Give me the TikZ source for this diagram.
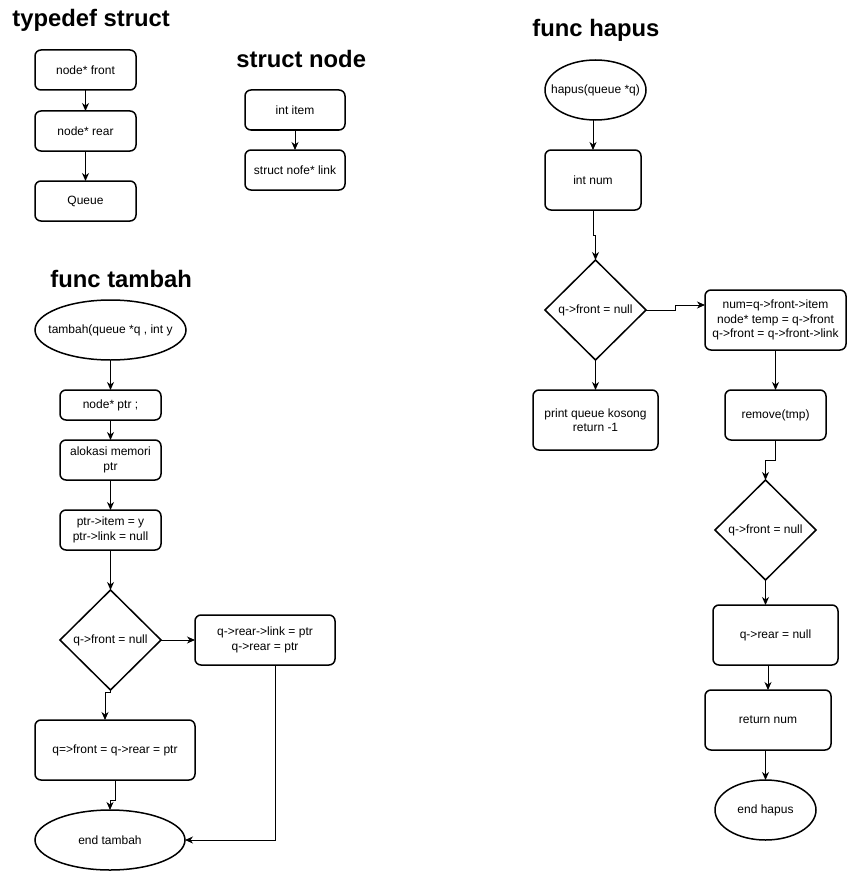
\documentclass[tikz,border=0pt]{standalone}
\usepackage{fontspec}
\setmainfont{Liberation Sans}
\usetikzlibrary{arrows.meta,positioning,shapes.geometric}

\tikzset{
  block/.style={draw, rounded corners=6pt, line width=1.5pt, inner sep=2pt, outer sep=0pt,
    align=center, minimum width=101pt, minimum height=40pt},
  term/.style={draw, ellipse, line width=1.5pt, inner sep=0pt, outer sep=0pt,
    minimum width=101pt, minimum height=60pt},
  decide/.style={draw, diamond, line width=1.5pt, inner sep=0pt, outer sep=0pt,
    minimum width=101pt, minimum height=100pt},
  title/.style={anchor=base west, inner sep=0pt,
    font=\bfseries\fontsize{23.8}{28}\selectfont}
}

\begin{document}
\begin{tikzpicture}[->,>={Stealth[length=8pt,width=7pt,inset=2.5pt]},x=1pt,y=-1pt,
    line width=0.9pt,font=\fontsize{12}{14.3}\selectfont]
  \useasboundingbox (0,0) rectangle (847,872);

  \node[title] (ttypedef) at (12,27) {typedef struct};
  \node[block] (front) at (85.5,70) {node* front};
  \node[block] (rear) [below=21pt of front] {node* rear};
  \node[block] (queue) [below=30pt of rear] {Queue};

  \node[title] (tnode) at (236,68) {struct node};
  \node[block, minimum width=100pt] (item) at (295,110) {int item};
  \node[block, minimum width=100pt] (link) [below=20pt of item] {struct nofe* link};

  \node[title] (ttambah) at (50,287) {func tambah};
  \node[term, minimum width=151pt] (tam) at (110.5,330) {\makebox[0pt]{tambah(queue *q , int y}};
  \node[block, minimum height=30pt] (ptr) [below=30pt of tam] {node* ptr ;};
  \node[block] (alok) [below=20pt of ptr] {alokasi memori\\ptr};
  \node[block] (pitem) [below=30pt of alok] {ptr->item = y\\ptr->link = null};
  \node[decide] (tdia) [below=40pt of pitem] {q->front = null};
  \node[block, minimum width=140pt, minimum height=50pt] (tlink) [right=34pt of tdia]
    {q->rear->link = ptr\\q->rear = ptr};
  \node[block, minimum width=160pt, minimum height=60pt] (qf) [below=30pt of tdia, xshift=4.5pt]
    {q=>front = q->rear = ptr};
  \node[term, minimum width=150pt] (tend) [below=30pt of qf, xshift=-5pt] {end tambah};

  \node[title] (thapus) at (532,37) {func hapus};
  \node[term] (hap) at (595.5,90) {\makebox[0pt]{hapus(queue *q)}};
  \node[block, minimum width=96pt, minimum height=60pt] (num) [below=30pt of hap, xshift=-2.5pt] {int num};
  \node[decide] (hdia) [below=50pt of num, xshift=2.5pt] {q->front = null};
  \node[block, minimum width=125pt, minimum height=60pt] (print) [below=30pt of hdia]
    {print queue kosong\\return -1};
  \node[block, minimum width=141pt, minimum height=60pt] (take) [right=59pt of hdia, yshift=-10pt]
    {num=q->front->item\\node* temp = q->front\\q->front = q->front->link};
  \node[block, minimum height=50pt] (remove) [below=40pt of take] {remove(tmp)};
  \node[decide] (hdia2) [below=40pt of remove, xshift=-10pt] {q->front = null};
  \node[block, minimum width=125pt, minimum height=60pt] (qrear) [below=25pt of hdia2, xshift=10pt]
    {q->rear = null};
  \node[block, minimum width=126pt, minimum height=60pt] (ret) [below=25pt of qrear, xshift=-7.5pt]
    {return num};
  \node[term] (endh) [below=30pt of ret, xshift=-2.5pt] {end hapus};

  \draw (front) -- (rear);
  \draw (rear) -- (queue);
  \draw (item) -- (link);

  \draw (tam) -- (ptr);
  \draw (ptr) -- (alok);
  \draw (alok) -- (pitem);
  \draw (pitem) -- (tdia);
  \draw (tdia) -- (tlink);
  \draw (tdia.south) -- ++(0,2) -| ([xshift=-10pt]qf.north);
  \draw (qf.south) -- ++(0,20) -| (tend.north);
  \draw ([xshift=10pt]tlink.south) |- (tend.east);

  \draw (hap.south -| num.north) -- (num.north);
  \draw (num.south) -- ++(0,25) -| (hdia.north);
  \draw (hdia) -- (print);
  \draw (hdia.east) -- ++(29,0) |- ([yshift=15pt]take.west);
  \draw (take) -- (remove);
  \draw (remove.south) -- ++(0,20) -| (hdia2.north);
  \draw (hdia2.south) -- (hdia2.south |- qrear.north);
  \draw (qrear.south -| ret.north) -- (ret.north);
  \draw (ret.south -| endh.north) -- (endh.north);
\end{tikzpicture}
\end{document}
